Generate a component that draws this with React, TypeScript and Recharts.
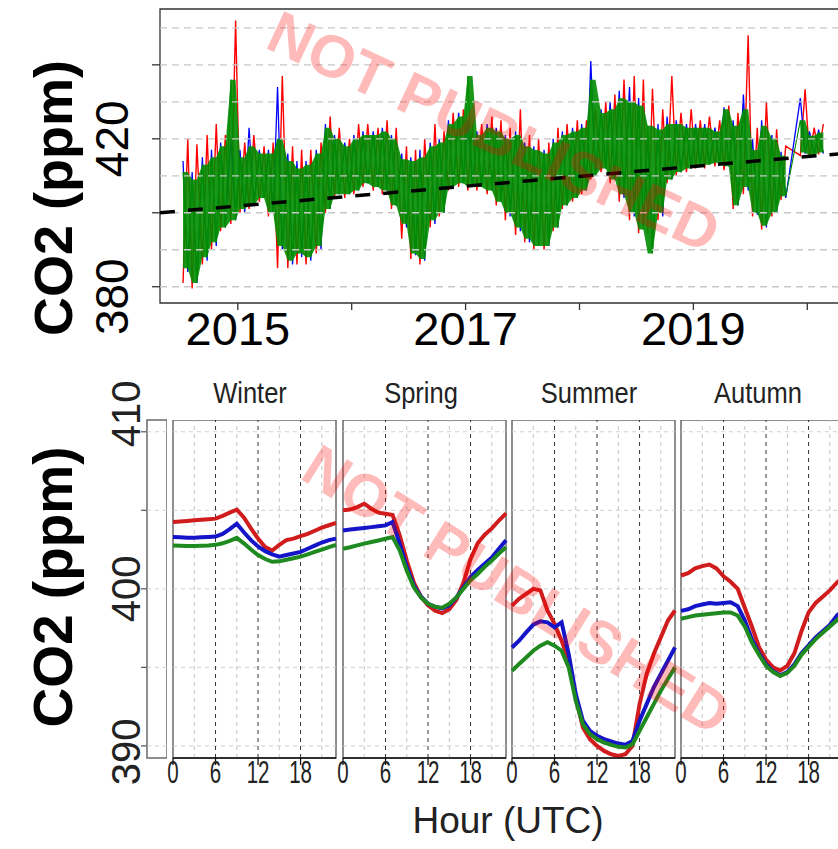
import React from "react";
import {
  ComposedChart,
  LineChart,
  Line,
  Area,
  XAxis,
  YAxis,
  ReferenceLine,
  ReferenceArea,
} from "recharts";

// ---- top panel: hourly CO2 record, summarised as monthly envelopes ----
const monthTimes = [
  2014.54, 2014.62, 2014.71, 2014.79, 2014.87, 2014.96, 2015.04, 2015.12, 2015.21, 2015.29,
  2015.37, 2015.46, 2015.54, 2015.62, 2015.71, 2015.79, 2015.87, 2015.96, 2016.04, 2016.12,
  2016.21, 2016.29, 2016.37, 2016.46, 2016.54, 2016.62, 2016.71, 2016.79, 2016.87, 2016.96,
  2017.04, 2017.12, 2017.21, 2017.29, 2017.37, 2017.46, 2017.54, 2017.62, 2017.71, 2017.79,
  2017.87, 2017.96, 2018.04, 2018.12, 2018.21, 2018.29, 2018.37, 2018.46, 2018.54, 2018.62,
  2018.71, 2018.79, 2018.87, 2018.96, 2019.04, 2019.12, 2019.21, 2019.29, 2019.37, 2019.46,
  2019.54, 2019.62, 2019.71, 2019.79, 2019.87, 2019.96, 2020.04, 2020.12,
]
const greenHi = [
  411, 409, 413, 415, 418, 436, 415, 418, 416, 416,
  420, 414, 412, 413, 416, 423, 420, 418, 420, 421,
  421, 422, 420, 414.5, 414, 415, 418, 419, 424, 426,
  437, 421, 423, 422, 420, 421, 418, 417, 416, 419,
  421, 422, 423, 436, 427, 428, 431, 430, 429, 423.5,
  422.5, 424, 424, 423, 423, 423, 422, 428, 423.5, 428,
  417, 423.5, 420, 415.4, null, 425, 420.8, 421.7,
]
const greenLo = [
  385, 381, 388, 392, 396, 398, 401, 402, 404, 400,
  391, 387, 389, 388, 391, 401, 405, 405, 406, 408,
  407, 406, 402, 397, 389, 387.5, 398, 400, 407, 408,
  407, 407, 406, 403, 400, 396, 393, 391, 391, 396,
  402, 404, 406, 410, 412, 409, 405, 400, 395.5, 389,
  400, 409, 411, 412, 413, 413, 413.5, 412.6, 402, 407,
  400, 396.5, 400, 404.5, null, 416.3, 415.4, 416.3,
]
const redHi = [
  420, 418.5, 421, 424, 421, 452, 419, 421, 418, 419,
  437, 418, 417, 417, 419, 426, 423, 420, 424, 424,
  423, 425, 423, 418, 417, 420, 424, 422, 427, 428,
  424, 424, 426, 425, 423, 428, 421, 420, 419, 423,
  424, 425, 425, 428, 430, 432, 436, 437, 436, 433.5,
  428, 437, 427, 428, 425, 426, 425, 429, 427, 448,
  423, 430, 422.6, 418, null, 433.4, 423, 424,
]
const redLo = [
  381, 379.5, 386, 390, 395, 397, 400, 401, 403, 399,
  385, 385, 386, 386, 389, 400, 404, 404, 405, 407,
  406, 405, 401, 393, 387.5, 386, 396, 399, 406, 407,
  406, 406, 405, 402, 398, 394, 392, 390, 390, 395,
  401, 403, 405, 409, 411, 408, 403, 398, 394.5, 394.5,
  398, 408, 410, 411, 412, 412, 412.5, 411.5, 401, 405,
  399, 395.5, 399, 403.5, null, 415.5, 415, 415.8,
]
const blueHi = [
  414, 411, 415, 417, 419, 420, 417, 423, 417, 417,
  434, 416, 414, 414, 417, 424, 421, 419, 421, 422,
  422, 423, 421, 416, 415, 417, 419, 420, 425, 427,
  425, 422, 424, 423, 421, 422, 419, 418, 417, 420,
  422, 423, 424, 441, 428, 430, 433, 434, 431, 421.5,
  424, 426, 425, 424, 424, 424, 423, 428.5, 425, 432,
  420, 425, 421, 416.5, null, 431, 422, 422.5,
]
const blueLo = [
  384, 381, 387, 391, 396, 398, 400, 402, 404, 400,
  390, 386, 388, 387, 390, 401, 405, 405, 406, 408,
  407, 406, 402, 396, 388.5, 387, 397, 400, 407, 408,
  407, 407, 406, 403, 399, 395, 392, 391, 391, 396,
  402, 404, 406, 410, 412, 409, 404, 399, 396.5, 390,
  399, 409, 411, 412, 413, 413, 413.5, 412.5, 402, 406,
  399.5, 396, 400, 404, null, 416, 415.5, 416,
]
const trendYears = [2014.317, 2020.375]
const trendValues = [400.0, 416.2]
const topGrid = [380, 390, 400, 410, 420, 430, 440, 450]
const topYTicks = [380, 400, 420, 440]
const topXTicks = [2015, 2016, 2017, 2018, 2019, 2020]

// ---- bottom panels: mean diurnal cycle per season ----
const hours = [0, 1, 2, 3, 4, 5, 6, 7, 8, 9, 10, 11, 12, 13, 14, 15, 16, 17, 18, 19, 20, 21, 22, 23]
const seasons = ["Winter", "Spring", "Summer", "Autumn"]
const winterRed = [404.25, 404.28, 404.32, 404.36, 404.4, 404.43, 404.47, 404.65, 404.85, 405.04, 404.55, 403.85, 403.2, 402.66, 402.44, 402.8, 403.1, 403.2, 403.35, 403.5, 403.7, 403.9, 404.05, 404.2]
const winterBlue = [403.3, 403.28, 403.25, 403.25, 403.28, 403.3, 403.33, 403.5, 403.8, 404.15, 403.6, 403.1, 402.7, 402.4, 402.2, 402.05, 402.15, 402.25, 402.35, 402.55, 402.75, 402.95, 403.1, 403.2]
const winterGreen = [402.76, 402.74, 402.72, 402.72, 402.74, 402.76, 402.8, 402.9, 403.05, 403.25, 402.9, 402.5, 402.15, 401.9, 401.72, 401.75, 401.85, 401.95, 402.05, 402.2, 402.35, 402.5, 402.65, 402.8]
const springRed = [405.0, 405.05, 405.2, 405.42, 405.1, 404.85, 404.78, 404.7, 403.4, 401.8, 400.4, 399.5, 398.95, 398.6, 398.45, 398.7, 399.3, 400.4, 401.9, 402.9, 403.45, 403.85, 404.35, 404.8]
const springBlue = [403.72, 403.78, 403.83, 403.88, 403.93, 403.98, 404.04, 404.25, 402.87, 401.4, 400.2, 399.5, 399.05, 398.85, 398.75, 398.95, 399.45, 400.1, 400.75, 401.2, 401.6, 402.0, 402.55, 403.1]
const springGreen = [402.55, 402.65, 402.77, 402.88, 402.98, 403.08, 403.19, 403.3, 402.45, 401.15, 400.1, 399.45, 399.05, 398.85, 398.8, 399.05, 399.45, 400.0, 400.55, 400.95, 401.4, 401.8, 402.25, 402.65]
const summerRed = [398.93, 399.36, 399.68, 400.0, 399.9, 398.62, 397.77, 396.7, 395.42, 393.08, 391.17, 390.43, 390.0, 389.68, 389.47, 389.36, 389.47, 390.0, 392.66, 394.58, 395.85, 396.91, 397.98, 398.62]
const summerBlue = [396.27, 396.7, 397.23, 397.72, 397.93, 397.87, 397.55, 397.87, 395.85, 393.3, 391.6, 390.96, 390.64, 390.43, 390.28, 390.15, 390.07, 390.32, 391.6, 392.66, 393.72, 394.58, 395.42, 396.27]
const summerGreen = [394.79, 395.21, 395.63, 396.06, 396.38, 396.6, 396.38, 396.06, 395.0, 392.87, 391.38, 390.75, 390.43, 390.21, 390.07, 389.94, 389.9, 390.1, 390.96, 391.81, 392.66, 393.51, 394.26, 395.0]
const autumnRed = [400.85, 401.0, 401.3, 401.45, 401.55, 401.3, 400.8, 400.45, 400.0, 398.8, 397.6, 396.3, 395.5, 395.0, 394.8, 395.1, 395.9, 397.3, 398.5, 399.1, 399.5, 399.9, 400.4, 400.8]
const autumnBlue = [398.6, 398.7, 398.9, 399.0, 399.1, 399.05, 399.1, 399.15, 398.9, 398.0, 396.8, 395.9, 395.2, 394.75, 394.5, 394.7, 395.2, 395.9, 396.4, 396.9, 397.3, 397.7, 398.3, 398.7]
const autumnGreen = [398.1, 398.2, 398.3, 398.35, 398.4, 398.45, 398.5, 398.5, 398.3, 397.6, 396.6, 395.8, 395.1, 394.7, 394.45, 394.65, 395.1, 395.8, 396.3, 396.8, 397.2, 397.6, 398.0, 398.4]
const hourTicks = [0, 6, 12, 18]
const hourMinor = [3, 9, 15, 21]
const panelGrid = [390, 395, 400, 405, 410]

const FONT = "'Liberation Sans', Arial, Helvetica, sans-serif"
const X_MIN = 2014.317
const X_MAX = 2020.375
const Y_TOP: [number, number] = [375.6, 455.1]
const Y_BOT: [number, number] = [389.23, 410.75]
const PANEL_LEFT = [173, 343, 512, 681]
const STRIP_LEFT = 100
const STRIP_PAD = 60

// zig-zag the monthly envelopes so they read like the dense hourly traces
const q = 1 / 48
const topRows: any[] = []
monthTimes.forEach((t, i) => {
  const band = greenHi[i] == null ? null : [greenLo[i], greenHi[i]]
  topRows.push({ t: t - q, g: greenHi[i], r: redLo[i], b: blueHi[i], band })
  topRows.push({ t: t + q, g: greenLo[i], r: redHi[i], b: blueLo[i], band })
})
const trendRows = trendYears.map((t, i) => ({ t, trend: trendValues[i] }))

const YearTick = (props: any) => {
  const { x, payload } = props
  if (payload.value % 2 === 0) return <g />
  return (
    <text x={x} y={345} textAnchor="middle" fontSize={47} fontFamily={FONT} fill="#000">
      {payload.value}
    </text>
  )
}

const topShift: Record<number, number> = { 380: 10, 420: 0 }
const PpmTick = (props: any) => {
  const { y, payload } = props
  if (!(payload.value in topShift)) return <g />
  const cy = y + topShift[payload.value]
  return (
    <text x={128} y={cy} transform={`rotate(-90 128 ${cy})`} textAnchor="middle" fontSize={46} fontFamily={FONT} fill="#000">
      {payload.value}
    </text>
  )
}

const botShift: Record<number, number> = { 390: 6, 400: 0, 410: -18 }
const PanelPpmTick = (props: any) => {
  const { y, payload } = props
  if (!(payload.value in botShift)) return <g />
  const cy = y + botShift[payload.value]
  const bx = 140 - STRIP_LEFT
  return (
    <text x={bx} y={cy} transform={`rotate(-90 ${bx} ${cy})`} textAnchor="middle" fontSize={40} fontFamily={FONT} fill="#222">
      {payload.value}
    </text>
  )
}

const HourTick = (props: any) => {
  const { x, payload } = props
  return (
    <text transform={`translate(${x} 363) scale(0.64 1)`} textAnchor="middle" fontSize={32} fontFamily={FONT} fill="#222">
      {payload.value}
    </text>
  )
}

function TopChart() {
  return (
    <div style={{ position: "absolute", left: 0, top: 0 }}>
      <ComposedChart width={880} height={360} data={topRows} margin={{ top: 9, right: 30, bottom: 7, left: 100 }}>
        <XAxis
          dataKey="t"
          type="number"
          domain={[X_MIN, X_MAX]}
          allowDataOverflow
          ticks={topXTicks}
          interval={0}
          tick={<YearTick />}
          tickSize={7}
          tickLine={{ stroke: "#333", strokeWidth: 1.3 }}
          axisLine={false}
          height={50}
        />
        <YAxis
          type="number"
          domain={Y_TOP}
          allowDataOverflow
          ticks={topYTicks}
          interval={0}
          tick={<PpmTick />}
          tickSize={8}
          tickLine={{ stroke: "#333", strokeWidth: 1.3 }}
          axisLine={false}
          width={60}
        />
        {topGrid.map((v) => (
          <ReferenceLine key={v} y={v} stroke="#c8c8c8" strokeWidth={1.3} strokeDasharray="7 5" />
        ))}
        {/* all traces as Areas so they stack in the order declared */}
        <Area dataKey="r" type="linear" stroke="#ff0000" strokeWidth={1.4} fill="none" fillOpacity={0} connectNulls isAnimationActive={false} />
        <Area dataKey="b" type="linear" stroke="#0000ff" strokeWidth={1.3} fill="none" fillOpacity={0} connectNulls isAnimationActive={false} />
        <Area dataKey="band" type="linear" fill="#008c00" fillOpacity={0.9} stroke="none" isAnimationActive={false} />
        <Area dataKey="g" type="linear" stroke="#008c00" strokeWidth={1.1} fill="none" fillOpacity={0} connectNulls isAnimationActive={false} />
        <Line
          data={trendRows}
          dataKey="trend"
          stroke="#000"
          strokeWidth={3.5}
          strokeDasharray="15 13"
          dot={false}
          isAnimationActive={false}
        />
        <ReferenceArea x1={X_MIN} x2={X_MAX} y1={Y_TOP[0]} y2={Y_TOP[1]} fill="none" stroke="#333" strokeWidth={1.3} />
      </ComposedChart>
    </div>
  )
}

function LeftStrip() {
  const rows = [{ x: 0 }, { x: 1 }]
  return (
    <div style={{ position: "absolute", left: STRIP_LEFT, top: 420 - STRIP_PAD }}>
      <LineChart
        width={67}
        height={338 + 2 * STRIP_PAD}
        data={rows}
        margin={{ top: STRIP_PAD, right: 0, bottom: STRIP_PAD, left: 0 }}
      >
        <XAxis dataKey="x" type="number" domain={[0, 1]} hide />
        <YAxis
          type="number"
          domain={Y_BOT}
          allowDataOverflow
          ticks={panelGrid}
          interval={0}
          tick={<PanelPpmTick />}
          tickSize={6}
          tickLine={{ stroke: "#555", strokeWidth: 1.2 }}
          axisLine={false}
          width={47}
        />
        {panelGrid.map((v) => (
          <ReferenceLine key={v} y={v} stroke="#cfcfcf" strokeDasharray="4 4" />
        ))}
        <ReferenceArea x1={0} x2={1} y1={Y_BOT[0]} y2={Y_BOT[1]} fill="none" stroke="#6a6a6a" strokeWidth={1.5} />
      </LineChart>
    </div>
  )
}

function SeasonPanel({ left, red, blue, green }: { left: number; red: number[]; blue: number[]; green: number[] }) {
  const rows = hours.map((h, i) => ({ h, red: red[i], blue: blue[i], green: green[i] }))
  return (
    <div style={{ position: "absolute", left: left - 10, top: 420 }}>
      <LineChart width={183} height={384} data={rows} margin={{ top: 0, right: 10, bottom: 0, left: 10 }}>
        <XAxis
          dataKey="h"
          type="number"
          domain={[0, 23]}
          ticks={hourTicks}
          interval={0}
          tick={<HourTick />}
          tickSize={7}
          tickLine={{ stroke: "#111", strokeWidth: 1.3 }}
          axisLine={{ stroke: "#111", strokeWidth: 1.6 }}
          height={46}
        />
        <YAxis type="number" domain={Y_BOT} allowDataOverflow hide />
        {panelGrid.map((v) => (
          <ReferenceLine key={"y" + v} y={v} stroke="#cfcfcf" strokeDasharray="4 4" />
        ))}
        {hourMinor.map((v) => (
          <ReferenceLine key={"m" + v} x={v} stroke="#c4c4c4" strokeDasharray="4 4" />
        ))}
        {hourTicks.slice(1).map((v) => (
          <ReferenceLine key={"h" + v} x={v} stroke="#333" strokeDasharray="4 4" />
        ))}
        <Line dataKey="red" stroke="#d01c1c" strokeWidth={4} dot={false} isAnimationActive={false} />
        <Line dataKey="blue" stroke="#1414c8" strokeWidth={4} dot={false} isAnimationActive={false} />
        <Line dataKey="green" stroke="#1f8a1f" strokeWidth={4} dot={false} isAnimationActive={false} />
        <ReferenceArea x1={0} x2={23} y1={Y_BOT[0]} y2={Y_BOT[1]} fill="none" stroke="#6a6a6a" strokeWidth={1.5} />
      </LineChart>
    </div>
  )
}

export default function App() {
  const seasonData = [
    [winterRed, winterBlue, winterGreen],
    [springRed, springBlue, springGreen],
    [summerRed, summerBlue, summerGreen],
    [autumnRed, autumnBlue, autumnGreen],
  ]
  const stripCenters = [250, 421, 589, 758]
  return (
    <div
      style={{
        position: "absolute",
        left: 0,
        top: 0,
        width: 838,
        height: 849,
        overflow: "hidden",
        background: "#fff",
        fontFamily: FONT,
      }}
    >
      <TopChart />
      <LeftStrip />
      {seasonData.map((s, i) => (
        <SeasonPanel key={seasons[i]} left={PANEL_LEFT[i]} red={s[0]} blue={s[1]} green={s[2]} />
      ))}
      <svg width={838} height={849} style={{ position: "absolute", left: 0, top: 0, pointerEvents: "none" }}>
        <text x={72} y={198} transform="rotate(-90 72 198)" textAnchor="middle" fontSize={54} fontWeight="bold" fontFamily={FONT} fill="#000">
          CO2 (ppm)
        </text>
        <text x={72} y={587} transform="rotate(-90 72 587)" textAnchor="middle" fontSize={55} fontWeight="bold" fontFamily={FONT} fill="#000">
          CO2 (ppm)
        </text>
        {seasons.map((s, i) => (
          <text key={s} transform={`translate(${stripCenters[i]} 403) scale(0.85 1)`} textAnchor="middle" fontSize={30} fontFamily={FONT} fill="#222">
            {s}
          </text>
        ))}
        <text x={508} y={833} textAnchor="middle" fontSize={37} fontFamily={FONT} fill="#222">
          Hour (UTC)
        </text>
        <text
          x={494}
          y={132}
          transform="rotate(25 494 132)"
          textAnchor="middle"
          dominantBaseline="central"
          fontSize={60}
          fontWeight="bold"
          fontFamily={FONT}
          fill="rgba(255,0,0,0.27)"
        >
          NOT PUBLISHED
        </text>
        <text
          x={517}
          y={590}
          transform="rotate(32 517 590)"
          textAnchor="middle"
          dominantBaseline="central"
          fontSize={60}
          fontWeight="bold"
          fontFamily={FONT}
          fill="rgba(255,0,0,0.27)"
        >
          NOT PUBLISHED
        </text>
      </svg>
    </div>
  )
}
